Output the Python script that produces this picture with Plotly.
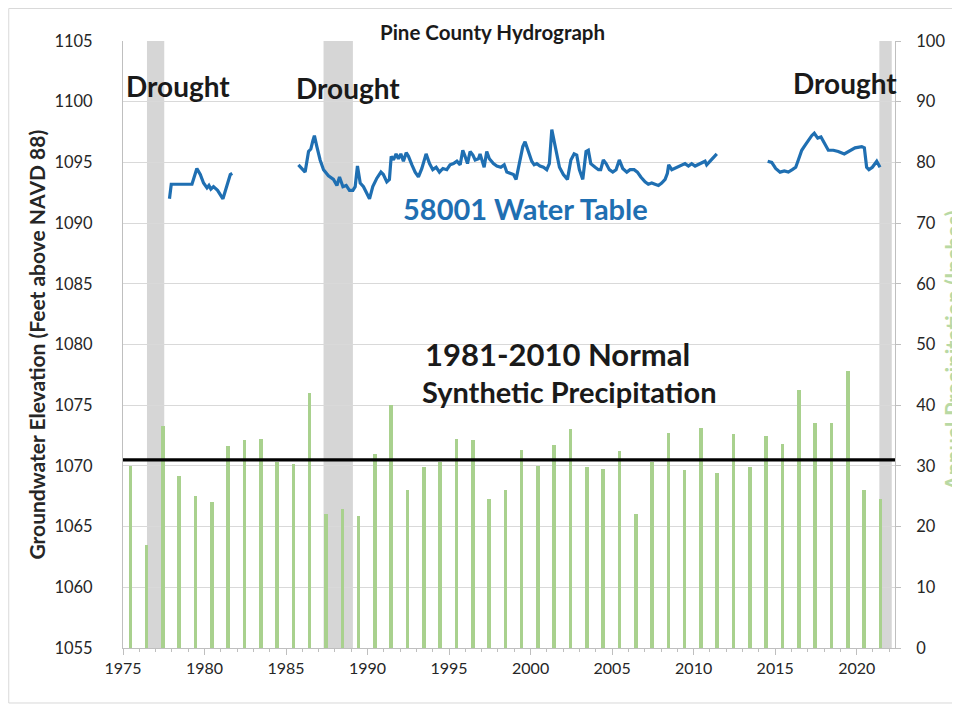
import plotly.graph_objects as go

# ---------------- data ----------------
years = list(range(1975, 2022))
precip_in = [30.0, 17.0, 36.6, 28.4, 25.1, 24.0, 33.2, 34.2, 34.4, 30.7,
             30.3, 42.0, 22.1, 22.9, 21.7, 31.9, 40.0, 26.1, 29.9, 30.7,
             34.4, 34.2, 24.5, 26.0, 32.7, 30.0, 33.4, 36.0, 29.9, 29.5,
             32.5, 22.1, 30.7, 35.5, 29.3, 36.3, 28.9, 35.2, 29.8, 34.9,
             33.6, 42.5, 37.0, 37.0, 45.6, 26.1, 24.5]
bar_offset = 0.45  # bars plotted at mid-year

normal_precip = 31.0

wt_date = [
    1977.85, 1977.96, 1978.10, 1979.23, 1979.53, 1979.74, 1979.94, 1980.15, 1980.27, 1980.39,
    1980.55, 1980.80, 1981.13, 1981.37, 1981.58, 1981.70, None,
    1985.76, 1986.17, 1986.38, 1986.52, 1986.65, 1986.74, 1986.89, 1987.09, 1987.30, 1987.60,
    1987.91, 1988.12, 1988.28, 1988.49, 1988.69, 1988.89, 1989.10, 1989.24, 1989.38, 1989.55,
    1989.75, 1989.96, 1990.12, 1990.32, 1990.57, 1990.82, 1990.97, 1991.18, 1991.34, 1991.45,
    1991.59, 1991.75, 1991.89, 1992.04, 1992.20, 1992.37, 1992.51, 1992.72, 1992.92, 1993.12,
    1993.33, 1993.59, 1993.80, 1994.00, 1994.21, 1994.41, 1994.62, 1994.86, 1995.06, 1995.27,
    1995.48, 1995.68, 1995.84, 1995.98, 1996.13, 1996.29, 1996.46, 1996.60, 1996.80, 1996.90,
    1997.15, 1997.31, 1997.47, 1997.72, 1997.93, 1998.17, 1998.38, 1998.54, 1998.74, 1998.95,
    1999.11, 1999.31, 1999.52, 1999.66, 1999.87, 2000.07, 2000.22, 2000.38, 2000.58, 2000.79,
    2000.99, 2001.15, 2001.30, 2001.44, 2001.56, 2001.77, 2002.01, 2002.26, 2002.47, 2002.67,
    2002.83, 2002.99, 2003.20, 2003.40, 2003.54, 2003.69, 2003.96, 2004.16, 2004.30, 2004.46,
    2004.63, 2004.83, 2005.04, 2005.24, 2005.44, 2005.65, 2005.90, 2006.10, 2006.35, 2006.55,
    2006.76, 2007.02, 2007.22, 2007.43, 2007.63, 2007.84, 2008.04, 2008.25, 2008.39, 2008.47,
    2008.66, 2008.96, 2009.17, 2009.47, 2009.68, 2009.88, 2010.09, 2010.35, 2010.70, 2010.80,
    2011.11, 2011.42, None,
    2014.54, 2014.79, 2015.03, 2015.30, 2015.56, 2015.81, 2016.05, 2016.26, 2016.42, 2016.63,
    2016.83, 2017.03, 2017.24, 2017.40, 2017.61, 2017.81, 2018.01, 2018.26, 2018.57, 2018.87,
    2019.24, 2019.59, 2019.90, 2020.31, 2020.47, 2020.61, 2020.75, 2020.96, 2021.23, 2021.43]
wt_elev = [
    1092.0, 1093.2, 1093.2, 1093.2, 1094.5, 1094.0, 1093.3, 1092.9, 1093.1, 1092.8,
    1093.0, 1092.7, 1092.0, 1093.0, 1094.0, 1094.1, None,
    1094.8, 1094.2, 1095.9, 1096.1, 1096.8, 1097.2, 1096.3, 1095.2, 1094.4, 1093.9,
    1093.6, 1093.1, 1093.8, 1093.0, 1093.1, 1092.7, 1092.7, 1093.0, 1094.7, 1093.3,
    1093.0, 1092.5, 1092.0, 1093.0, 1093.7, 1094.2, 1094.0, 1093.4, 1093.6, 1095.5,
    1095.2, 1095.7, 1095.3, 1095.7, 1095.1, 1095.8, 1095.5, 1094.8, 1094.2, 1093.8,
    1094.5, 1095.7, 1094.9, 1094.4, 1094.6, 1094.2, 1094.5, 1094.4, 1094.8, 1094.9,
    1095.1, 1094.8, 1096.0, 1095.5, 1094.9, 1095.9, 1095.6, 1095.2, 1095.3, 1095.7,
    1094.6, 1095.9, 1095.3, 1094.9, 1094.7, 1094.6, 1094.8, 1094.2, 1094.1, 1094.0,
    1093.6, 1094.9, 1096.3, 1096.7, 1095.9, 1095.1, 1094.8, 1094.9, 1094.7, 1094.6,
    1094.4, 1094.9, 1097.7, 1096.8, 1096.0, 1094.6, 1094.0, 1093.6, 1095.2, 1095.7,
    1095.6, 1094.4, 1093.6, 1095.9, 1096.0, 1094.9, 1094.6, 1094.4, 1094.4, 1095.2,
    1094.9, 1094.4, 1094.2, 1094.4, 1095.2, 1094.5, 1094.2, 1094.4, 1094.4, 1094.2,
    1093.8, 1093.4, 1093.2, 1093.3, 1093.2, 1093.1, 1093.3, 1093.6, 1094.1, 1094.8,
    1094.4, 1094.6, 1094.7, 1094.9, 1094.7, 1094.9, 1094.7, 1094.9, 1095.1, 1094.8,
    1095.3, 1095.7, None,
    1095.1, 1095.0, 1094.5, 1094.2, 1094.3, 1094.2, 1094.4, 1094.6, 1095.2, 1096.0,
    1096.4, 1096.8, 1097.2, 1097.4, 1097.0, 1097.1, 1096.6, 1096.0, 1096.0, 1095.9,
    1095.7, 1096.0, 1096.2, 1096.3, 1096.2, 1094.6, 1094.4, 1094.6, 1095.1, 1094.6]

drought_start = [1976.47, 1987.30, 2021.39]
drought_end = [1977.53, 1989.10, 2022.15]
drought_label_x = [1978.39, 1988.81, 2019.28]
drought_label_y = [1101.3, 1101.1, 1101.5]

x_ticks = list(range(1975, 2021, 5))
y_left_ticks = list(range(1055, 1106, 5))
y_right_ticks = list(range(0, 101, 10))

# ---------------- styling ----------------
FONT = "Lato"
BLUE = "#1f6fb2"
GREEN = "#a9d18e"
GRID = "#d9d9d9"
AXIS = "#bfbfbf"
TXT = "#262626"

fig = go.Figure()

fig.add_trace(go.Bar(
    x=[y + bar_offset for y in years], y=precip_in, yaxis="y2",
    marker=dict(color=GREEN, line=dict(width=0)), width=0.22,
    name="Annual Precipitation", showlegend=False, hoverinfo="x+y"))

fig.add_trace(go.Scatter(
    x=wt_date, y=wt_elev, mode="lines", connectgaps=False,
    line=dict(color=BLUE, width=3.2), name="58001 Water Table", showlegend=False))

shapes = []
for s, e in zip(drought_start, drought_end):
    shapes.append(dict(type="rect", xref="x", yref="paper", x0=s, x1=e, y0=0, y1=1,
                       fillcolor="#d6d6d6", line=dict(width=0), layer="below"))
shapes.append(dict(type="line", xref="paper", yref="y2", x0=0, x1=1,
                   y0=normal_precip, y1=normal_precip,
                   line=dict(color="black", width=3.2), layer="above"))
# chart area border
shapes.append(dict(type="rect", xref="paper", yref="paper", x0=-0.148, x1=1.09,
                   y0=-0.0906, y1=1.0535, line=dict(color=GRID, width=1),
                   fillcolor="rgba(0,0,0,0)", layer="below"))

C = dict(xanchor="center", yanchor="middle", showarrow=False)
annotations = []
for lx, ly in zip(drought_label_x, drought_label_y):
    annotations.append(dict(x=lx, y=ly, xref="x", yref="y", text="<b>Drought</b>",
                            font=dict(family=FONT, size=28, color="#1a1a1a"), **C))
annotations += [
    dict(x=0.4786, y=1.0148, xref="paper", yref="paper", text="<b>Pine County Hydrograph</b>",
         font=dict(family=FONT, size=20.5, color="#1a1a1a"), **C),
    dict(x=1999.66, y=1091.24, xref="x", yref="y", text="<b>58001 Water Table</b>",
         font=dict(family=FONT, size=29, color=BLUE), **C),
    dict(x=2001.66, y=1079.22, xref="x", yref="y", text="<b>1981-2010 Normal</b>",
         font=dict(family=FONT, size=31, color="#1a1a1a"), **C),
    dict(x=2002.36, y=1076.17, xref="x", yref="y", text="<b>Synthetic Precipitation</b>",
         font=dict(family=FONT, size=29, color="#1a1a1a"), **C),
    dict(x=-0.1114, y=0.5, xref="paper", yref="paper", textangle=-90,
         text="<b>Groundwater Elevation (Feet above NAVD 88)</b>",
         font=dict(family=FONT, size=21, color=TXT), **C),
    dict(x=1.0764, y=0.49, xref="paper", yref="paper", textangle=-90,
         text="<b>Annual Precipitation (Inches)</b>",
         font=dict(family=FONT, size=22, color="#b9d9a3"), **C),
]

# page has an 8px body margin, so the figure is 8px smaller and margins shifted
fig.update_layout(
    width=952, height=700,
    margin=dict(l=115, r=65, t=33, b=60),
    paper_bgcolor="white", plot_bgcolor="white",
    font=dict(family=FONT, size=16, color=TXT),
    bargap=0,
    shapes=shapes, annotations=annotations,
    xaxis=dict(range=[1975, 2022.35], tickvals=x_ticks, ticks="outside", ticklen=6,
               tickcolor=AXIS, showline=True, linecolor=AXIS, linewidth=1,
               showgrid=False, zeroline=False, tickfont=dict(size=16, color=TXT),
               minor=dict(dtick=1, tick0=1975, ticks="outside", ticklen=3, tickcolor=AXIS)),
    yaxis=dict(range=[1055, 1105], tickvals=y_left_ticks, showgrid=True, gridcolor=GRID,
               showline=True, linecolor=AXIS, zeroline=False, ticks="",
               ticklabelstandoff=26, tickfont=dict(size=16.5, color=TXT)),
    yaxis2=dict(range=[0, 100], tickvals=y_right_ticks, overlaying="y", side="right",
                showgrid=False, showline=True, linecolor=AXIS, zeroline=False,
                ticks="outside", ticklen=5, tickcolor=AXIS, ticklabelstandoff=12,
                tickfont=dict(size=16.5, color=TXT)),
)

fig.write_html("out.html")
